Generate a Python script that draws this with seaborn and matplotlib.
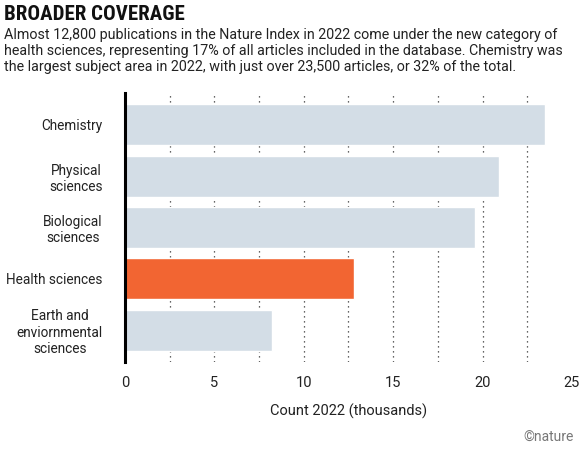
import matplotlib
matplotlib.use("Agg")
import matplotlib.pyplot as plt
import seaborn as sns
import pandas as pd

categories = ["Chemistry", "Physical\nsciences", "Biological\nsciences", "Health sciences",
              "Earth and\nenviornmental\nsciences"]
counts = [23.5, 20.9, 19.6, 12.8, 8.2]
highlight = "Health sciences"
xticks = [0, 5, 10, 15, 20, 25]
gridlines = [2.5, 5, 7.5, 10, 12.5, 15, 17.5, 20, 22.5]

sns.set_theme(style="white")
plt.rcParams["font.family"] = ["Roboto", "DejaVu Sans"]

df = pd.DataFrame({"cat": categories, "count": counts})
palette = {c: ("#f26532" if c == highlight else "#d3dde6") for c in categories}

fig = plt.figure(figsize=(5.8, 4.49), dpi=100)
ax = fig.add_axes([0.2155, 0.194, 0.7705, 0.599])
sns.barplot(data=df, x="count", y="cat", hue="cat", palette=palette, width=0.8,
            saturation=1, legend=False, ax=ax, zorder=2)

ax.set_xlim(0, 25)
ax.set_xticks(xticks)
ax.set_ylim(4.62, -0.62)
for x in gridlines:
    ax.axvline(x, color="#333333", linestyle=(0, (1, 3)), linewidth=0.9, zorder=1)
for s in ["top", "right", "bottom"]:
    ax.spines[s].set_visible(False)
ax.spines["left"].set_linewidth(2.2)
ax.spines["left"].set_color("black")
ax.spines["left"].set_zorder(3)
ax.tick_params(axis="both", length=0, labelsize=10.5, colors="#222222")
ax.tick_params(axis="x", pad=10)
ax.tick_params(axis="y", pad=16, labelsize=9.8)
ax.set_ylabel("")
ax.set_xlabel("Count 2022 (thousands)", fontsize=10.5, labelpad=10, color="#222222")
for lab in ax.get_yticklabels():
    lab.set_multialignment("center")

fig.text(0.007, 0.955, "BROADER COVERAGE", fontsize=15, fontweight="bold",
         family=["Roboto Condensed", "Roboto", "DejaVu Sans"], color="#111111")
fig.text(0.007, 0.842,
         "Almost 12,800 publications in the Nature Index in 2022 come under the new category of\n"
         "health sciences, representing 17% of all articles included in the database. Chemistry was\n"
         "the largest subject area in 2022, with just over 23,500 articles, or 32% of the total.",
         fontsize=10.3, color="#222222", linespacing=1.2)
fig.text(0.99, 0.015, "©nature", ha="right", fontsize=10, color="#777777")

fig.savefig("out.png", dpi=100)
